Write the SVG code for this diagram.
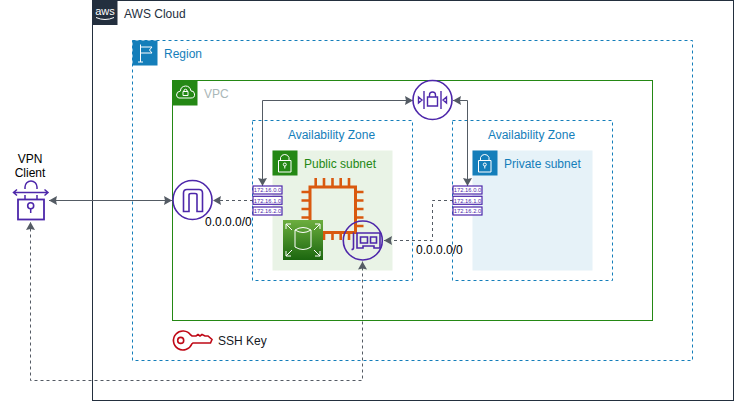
<svg xmlns="http://www.w3.org/2000/svg" width="734" height="401" viewBox="0 0 734 401">
<defs>
<marker id="ah" markerUnits="userSpaceOnUse" markerWidth="9" markerHeight="10" refX="8" refY="4.500" orient="auto"><path d="M0 0L8 4.500L0 9L1 4.500Z" fill="#545b64"/></marker>
<marker id="as" markerUnits="userSpaceOnUse" markerWidth="9" markerHeight="10" refX="0" refY="4.500" orient="auto"><path d="M8 0L0 4.500L8 9L7 4.500Z" fill="#545b64"/></marker>
<linearGradient id="g" x1="0" y1="1" x2="0" y2="0"><stop offset="0" stop-color="#1b660f"/><stop offset="1" stop-color="#6cae3e"/></linearGradient>
</defs>
<style>
text{font-family:"Liberation Sans",Arial,sans-serif;font-size:12px}
.c{fill:none;stroke:#545b64;stroke-width:1}
.d{stroke-dasharray:3 3}
.ic{fill:none;stroke:#fff;stroke-width:1}
.pu{fill:none;stroke:#4d27aa;stroke-width:1.600}
.cidr{fill:#fff;stroke:#4d27aa;stroke-width:1.200}
.ct{font-size:5.800px;fill:#4d27aa;text-anchor:middle}
.az{fill:none;stroke:#147eba;stroke-dasharray:3 3}
.o{stroke:#d9590f;stroke-width:2.600;fill:none}
</style>
<rect width="734" height="401" fill="#fff"/>
<g id="aws-cloud"><rect x="92.500" y="0.500" width="641" height="400" fill="none" stroke="#232f3e"/><rect x="92.500" y="0" width="25" height="25" fill="#232f3e"/><text x="105" y="15" text-anchor="middle" style="font-size:11px" fill="#fff">aws</text><path d="M96 17.500Q105 21.500 114 17.500" fill="none" stroke="#fff"/><text x="124" y="18" fill="#232f3e">AWS Cloud</text></g>
<g id="region"><rect x="132.500" y="40.500" width="560" height="320" fill="none" stroke="#147eba" stroke-dasharray="3 3"/><rect x="132.500" y="40.500" width="25" height="25" fill="#147eba"/><path d="M140.500 44.500V62M138 62H143M140.500 47H152L149.500 50L152 53H140.500" class="ic"/><text x="164" y="58" fill="#147eba">Region</text></g>
<g id="vpc"><rect x="172.500" y="80.500" width="480" height="240" fill="none" stroke="#248814"/><rect x="172.500" y="80.500" width="25" height="25" fill="#248814"/><path d="M179 98H191Q195 98 194.500 94Q194 90.500 191 91Q190 86 185.500 86Q180.500 86.500 180.500 91Q176.500 91.500 176.500 95Q177 98 179 98ZM183 91.500H188V95.500H183ZM184 91.500V90Q185.500 88.500 187 90V91.500" class="ic"/><text x="204" y="98" fill="#aab7b8">VPC</text></g>
<g id="az-1"><rect x="252.500" y="120.500" width="160" height="160" class="az"/><text x="331.500" y="139" text-anchor="middle" fill="#147eba">Availability Zone</text></g>
<g id="az-2"><rect x="452.500" y="120.500" width="160" height="160" class="az"/><text x="531.500" y="139" text-anchor="middle" fill="#147eba">Availability Zone</text></g>
<g id="public-subnet"><rect x="272.500" y="150.500" width="120" height="120" fill="#e9f3e6"/><rect x="272.500" y="150.500" width="25" height="25" fill="#248814"/><path d="M278.500 160.500H291V172H278.500ZM280.500 160.500V157.500A4.500 4.500 0 0 1 289 157.500V160.500M284.800 168.500V166" class="ic"/><circle cx="284.800" cy="164.500" r="1.500" class="ic"/><text x="304" y="168" fill="#248814">Public subnet</text></g>
<g id="private-subnet"><rect x="472.500" y="150.500" width="120" height="120" fill="#e6f2f8"/><rect x="472.500" y="150.500" width="25" height="25" fill="#147eba"/><path d="M478.500 160.500H491V172H478.500ZM480.500 160.500V157.500A4.500 4.500 0 0 1 489 157.500V160.500M484.800 168.500V166" class="ic"/><circle cx="484.800" cy="164.500" r="1.500" class="ic"/><text x="504" y="168" fill="#147eba">Private subnet</text></g>
<g id="connectors">
<path class="c" d="M49 200.500H172" marker-start="url(#as)" marker-end="url(#ah)"/>
<path class="c d" d="M253 200.500H213" marker-end="url(#ah)"/>
<path class="c" d="M413 100.500H262.500V186" marker-start="url(#as)" marker-end="url(#ah)"/>
<path class="c" d="M453 100.500H467.500V186" marker-start="url(#as)" marker-end="url(#ah)"/>
<path class="c d" d="M453 200.500H432.500V240.500H384" marker-end="url(#ah)"/>
<path class="c d" d="M362.500 261.500V380.500H30.500V222" marker-start="url(#as)" marker-end="url(#ah)"/>
</g>
<g id="ec2"><rect x="310" y="187" width="45.500" height="45.500" class="o" style="stroke-width:3"/><path class="o" d="M315.700 187V178M324 187V178M332.500 187V178M340.700 187V178M349 187V178M315.700 232V240M324 232V240M332.500 232V240M340.700 232V240M349 232V240M310 192H301.500M310 200.500H301.500M310 209H301.500M310 217.500H301.500M310 226H301.500M355 192H363.500M355 200.500H363.500M355 209H363.500M355 217.500H363.500M355 226H363.500"/></g>
<g id="efs"><rect x="283" y="220" width="40" height="40" fill="url(#g)"/><path class="ic" d="M295 230V247Q303 252 311 247V230M295 230Q303 225 311 230Q303 235 295 230ZM286 224L292 230M286 224H291M286 224V229M320 224L314 230M320 224H315M320 224V229M286 256L292 250M286 256H291M286 256V251M320 256L314 250M320 256H315M320 256V251"/></g>
<g id="eni"><circle cx="362.800" cy="240.500" r="19.500" fill="none" stroke="#4d27aa" stroke-width="1.600"/><path class="pu" d="M353.500 232.500V248Q353.500 249.500 351.500 249.500M357 233H380V248H374V246H363V248H357ZM360.500 237H367.500V243H360.500ZM370.500 237H376.500V243H370.500Z"/></g>
<g id="igw"><circle cx="192.500" cy="200" r="19.500" fill="#fff" stroke="#4d27aa" stroke-width="1.600"/><path class="pu" d="M183.500 211.500V193Q183.500 189.500 187 189.500H199Q202.500 189.500 202.500 193V211.500H197V195Q197 193.500 195 193.500H191Q189 193.500 189 195V211.500Z"/></g>
<g id="vpn-gateway"><circle cx="432.500" cy="100" r="19.500" fill="#fff" stroke="#4d27aa" stroke-width="1.600"/><path class="pu" d="M424 91V109M441 91V109M422 100L418.500 97V103ZM443 100L446.500 97V103ZM427.500 97H437.500V106H427.500ZM429.500 97V95A3 3 0 0 1 435.500 95V97" style="stroke-width:1.400"/></g>
<g id="vpn-client"><rect x="18" y="199.500" width="26" height="20" fill="#fff" stroke="#4d27aa" stroke-width="1.800"/><path class="pu" d="M14 192.500H47.500M17 189.500L13.500 192.500L17 195.500M44.500 189.500L48 192.500L44.500 195.500M25 189V187A6 6 0 0 1 37 187V189M25 195V199M37 195V199M30.700 209V213" style="stroke-width:1.500"/><circle cx="30.700" cy="205.800" r="3" class="pu"/><text x="30" y="163" text-anchor="middle" fill="#000">VPN</text><text x="30" y="177" text-anchor="middle" fill="#000">Client</text></g>
<g id="cidr-public"><rect x="253" y="186" width="29" height="8" class="cidr"/><rect x="253" y="196.300" width="29" height="8" class="cidr"/><rect x="253" y="207" width="29" height="8" class="cidr"/><text x="267.500" y="192.200" class="ct">172.16.0.0</text><text x="267.500" y="202.500" class="ct">172.16.1.0</text><text x="267.500" y="213.200" class="ct">172.16.2.0</text></g>
<g id="cidr-private"><rect x="453" y="186" width="29" height="8" class="cidr"/><rect x="453" y="196.300" width="29" height="8" class="cidr"/><rect x="453" y="207" width="29" height="8" class="cidr"/><text x="467.500" y="192.200" class="ct">172.16.0.0</text><text x="467.500" y="202.500" class="ct">172.16.1.0</text><text x="467.500" y="213.200" class="ct">172.16.2.0</text></g>
<g id="ssh-key"><path d="M191.800 344A9.500 9.500 0 1 1 190.700 335L192 336H196L198 334.500L200 336L202 334.500L205 336H208L212 339.500L210.500 343H193Z" fill="none" stroke="#bf0816" stroke-width="1.600"/><circle cx="180.700" cy="340.400" r="3" fill="none" stroke="#bf0816" stroke-width="1.600"/><text x="218" y="345" fill="#16191f">SSH Key</text></g>
<text x="205" y="226" fill="#000">0.0.0.0/0</text>
<text x="416" y="254" fill="#000">0.0.0.0/0</text>
</svg>
